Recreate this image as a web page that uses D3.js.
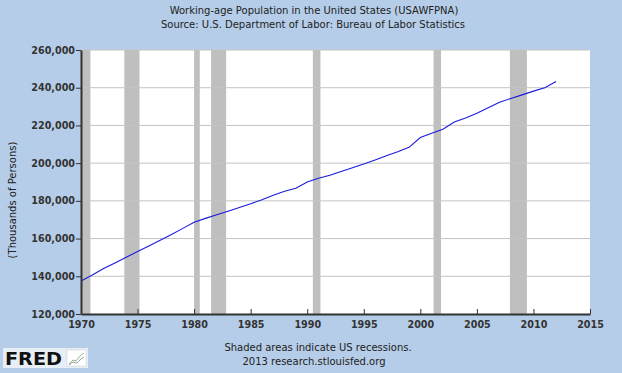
<!DOCTYPE html>
<html>
<head>
<meta charset="utf-8">
<script src="https://cdn.jsdelivr.net/npm/d3@7"></script>
<style>
  body { margin: 0; background: #b5cde8; }
  svg { display: block; }
  .tick text { font-family: "DejaVu Sans", sans-serif; font-weight: bold; font-size: 9.6px; fill: #333; }
</style>
</head>
<body>
<script>
// annual values, thousands of persons
var years = [1970, 1971, 1972, 1973, 1974, 1975, 1976, 1977, 1978, 1979,
             1980, 1981, 1982, 1983, 1984, 1985, 1986, 1987, 1988, 1989,
             1990, 1991, 1992, 1993, 1994, 1995, 1996, 1997, 1998, 1999,
             2000, 2001, 2002, 2003, 2004, 2005, 2006, 2007, 2008, 2009,
             2010, 2011, 2012];
var population = [137500, 140700, 144100, 147100, 150100, 153100, 156100, 159100, 162200, 165400,
                  168600, 170700, 172600, 174500, 176500, 178500, 180600, 183000, 185100, 186700,
                  190000, 192000, 193600, 195600, 197600, 199600, 201700, 203900, 206000, 208400,
                  213600, 215800, 218000, 221800, 223900, 226500, 229400, 232300, 234300, 236200,
                  238200, 240000, 243300];

// recessions (decimal years)
var recessionStart = [1969.92, 1973.83, 1980.0, 1981.5, 1990.5, 2001.17, 2007.92];
var recessionEnd   = [1970.83, 1975.17, 1980.5, 1982.83, 1991.17, 2001.83, 2009.42];

var xTicks = [1970, 1975, 1980, 1985, 1990, 1995, 2000, 2005, 2010, 2015];
var yTicks = [120000, 140000, 160000, 180000, 200000, 220000, 240000, 260000];

const W = 622, H = 373;
const plot = { left: 81, right: 590, top: 50, bottom: 314 };

const x = d3.scaleLinear().domain([1970, 2015]).range([plot.left, plot.right]);
const y = d3.scaleLinear().domain([120000, 260000]).range([plot.bottom, plot.top]);

const svg = d3.select("body").append("svg")
  .attr("width", W).attr("height", H);

svg.append("rect").attr("width", W).attr("height", H).attr("fill", "#b5cde8");

// plot area
svg.append("rect")
  .attr("x", plot.left).attr("y", plot.top)
  .attr("width", plot.right - plot.left).attr("height", plot.bottom - plot.top)
  .attr("fill", "#fff");

// recession bars
svg.append("g").selectAll("rect")
  .data(recessionStart.map(function (s, i) { return [Math.max(s, 1970), recessionEnd[i]]; }))
  .enter().append("rect")
  .attr("x", d => x(d[0]))
  .attr("width", d => x(d[1]) - x(d[0]))
  .attr("y", plot.top)
  .attr("height", plot.bottom - plot.top)
  .attr("fill", "#bfbfbf");

// grid lines
svg.append("g").selectAll("line")
  .data(yTicks.slice(1))
  .enter().append("line")
  .attr("x1", plot.left).attr("x2", plot.right)
  .attr("y1", d => y(d))
  .attr("y2", d => y(d))
  .attr("stroke", "#c4c4c4").attr("stroke-width", 1);

// data line
const line = d3.line()
  .x((d, i) => x(years[i]))
  .y(d => y(d));

svg.append("path")
  .datum(population)
  .attr("d", line)
  .attr("fill", "none")
  .attr("stroke", "#1a1add")
  .attr("stroke-width", 1.1);

// axes
const yAxis = svg.append("g")
  .attr("transform", "translate(" + plot.left + ",0)")
  .call(d3.axisLeft(y).tickValues(yTicks).tickSize(5).tickSizeOuter(0).tickPadding(1).tickFormat(d3.format(",")));

const xAxis = svg.append("g")
  .attr("transform", "translate(0," + plot.bottom + ")")
  .call(d3.axisBottom(x).tickValues(xTicks).tickSize(-5).tickSizeOuter(0).tickPadding(7).tickFormat(d3.format("d")));

[yAxis, xAxis].forEach(a => {
  a.select(".domain").attr("stroke", "#333").attr("stroke-width", 2);
  a.selectAll(".tick line").attr("stroke", "#333");
});

// titles
const font = "DejaVu Sans, sans-serif";
function label(tx, ty, str) {
  return svg.append("text")
    .attr("x", tx).attr("y", ty)
    .attr("text-anchor", "middle")
    .style("font-family", font).style("font-size", "10px").attr("fill", "#222")
    .text(str);
}
label(314, 14, "Working-age Population in the United States (USAWFPNA)");
label(313, 28, "Source: U.S. Department of Labor: Bureau of Labor Statistics");
label(318, 351, "Shaded areas indicate US recessions.");
label(314, 365, "2013 research.stlouisfed.org");

svg.append("text")
  .attr("transform", "translate(16,200) rotate(-90)")
  .attr("text-anchor", "middle")
  .style("font-family", font).style("font-size", "10px").attr("fill", "#222")
  .text("(Thousands of Persons)");

// FRED logo
const logo = svg.append("g");
logo.append("rect").attr("x", 3).attr("y", 348).attr("width", 85).attr("height", 20).attr("fill", "#e8eef5");
logo.append("text")
  .attr("x", 5).attr("y", 365)
  .attr("textLength", 57).attr("lengthAdjust", "spacingAndGlyphs")
  .style("font-family", font).style("font-weight", "bold").style("font-size", "17px")
  .attr("fill", "#111")
  .text("FRED");
logo.append("rect").attr("x", 67).attr("y", 350).attr("width", 19).attr("height", 16)
  .attr("fill", "#fff").attr("stroke", "#ccc").attr("stroke-width", 0.5);
logo.append("polyline").attr("points", "69,364 73,360 76,361 80,356 84,353")
  .attr("fill", "none").attr("stroke", "#8fbf8f").attr("stroke-width", 1);
logo.append("polyline").attr("points", "69,365 73,362 77,363 81,359 84,357")
  .attr("fill", "none").attr("stroke", "#a0a0a0").attr("stroke-width", 1);
</script>
</body>
</html>
